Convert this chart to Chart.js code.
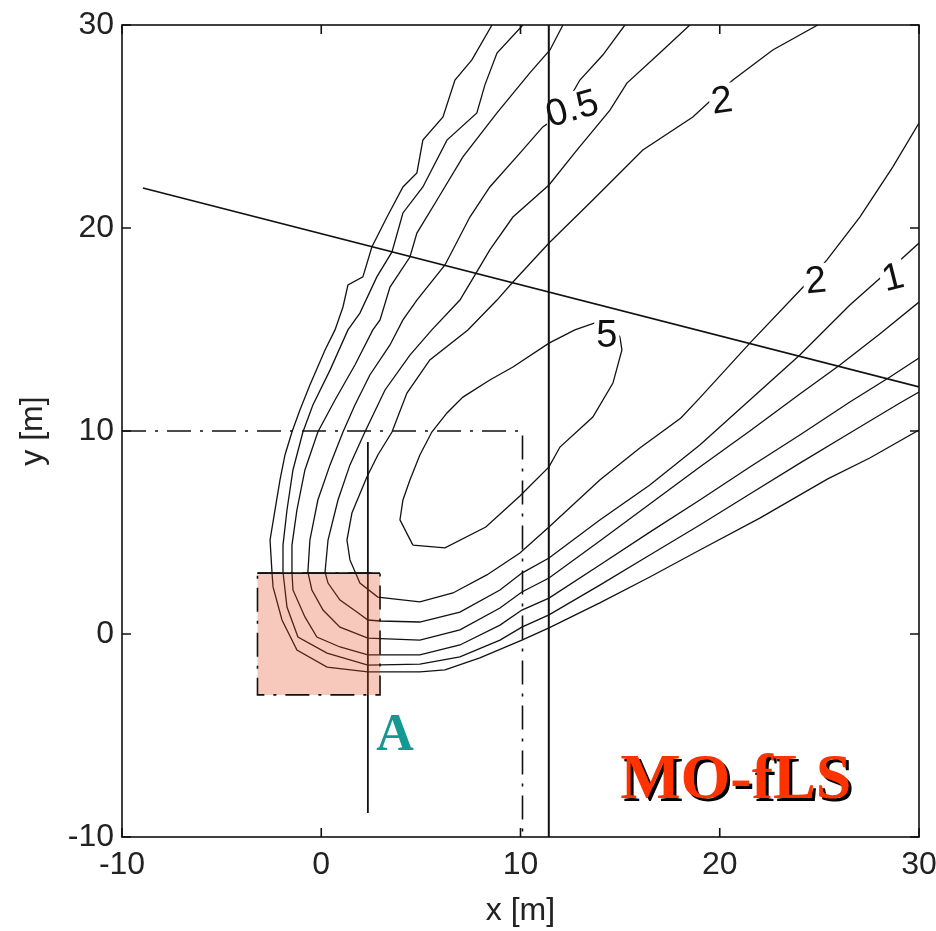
<!DOCTYPE html>
<html>
<head>
<meta charset="utf-8">
<title>MO-fLS footprint</title>
<script src="https://cdn.jsdelivr.net/npm/chart.js@4.4.1/dist/chart.umd.min.js"></script>
<style>
  html, body { margin: 0; padding: 0; background: #fff; }
  canvas { display: block; }
</style>
</head>
<body>
<canvas id="plot" width="936" height="931"></canvas>
<script>
// axis ticks (metres)
const xTicks = [-10, 0, 10, 20, 30];
const yTicks = [-10, 0, 10, 20, 30];

// contour lines, outermost first, [x, y] in metres
const contour1 = [
  [8.57, 30.0], [7.56, 28.28], [6.71, 27.29], [6.11, 25.47], [5.10, 24.33], [4.80, 22.71],
  [4.10, 22.02], [3.30, 20.54], [2.54, 19.06], [2.09, 17.59], [1.34, 17.19], [1.09, 16.11],
  [0.69, 14.98], [0.19, 13.99], [-0.57, 12.27], [-1.07, 11.03], [-1.47, 9.95], [-1.82, 8.82],
  [-2.07, 7.59], [-2.32, 6.11], [-2.57, 4.63], [-2.47, 3.00], [-2.42, 2.32], [-1.97, 0.69],
  [-1.22, -0.79], [0.29, -1.63], [2.34, -1.87], [4.95, -1.87], [6.21, -1.77], [7.96, -1.18],
  [10.07, -0.30], [11.43, 0.30], [13.98, 1.53], [16.49, 2.81], [19.00, 4.14], [22.01, 5.71],
  [25.42, 7.64], [27.53, 8.67], [30.00, 10.05]
];
const contour2 = [
  [10.12, 30.0], [8.82, 28.62], [8.21, 27.04], [7.81, 25.67], [6.31, 24.33], [5.10, 22.02],
  [4.10, 20.74], [3.55, 18.82], [2.79, 17.59], [1.94, 15.81], [1.34, 14.98], [0.44, 13.00],
  [-0.42, 11.28], [-0.92, 9.95], [-1.42, 8.08], [-1.72, 6.11], [-1.92, 4.38], [-1.92, 3.05],
  [-1.72, 1.33], [-1.17, -0.15], [0.29, -0.94], [2.34, -1.53], [4.95, -1.48], [6.96, -1.13],
  [8.97, -0.30], [10.07, 0.34], [11.43, 0.94], [13.98, 2.41], [16.49, 3.89], [19.00, 5.37],
  [21.51, 6.90], [24.02, 8.42], [26.53, 9.90], [29.04, 11.38], [30.00, 11.92]
];
const contour3 = [
  [12.13, 30.0], [11.48, 28.77], [10.47, 27.64], [8.82, 25.67], [7.11, 23.50], [5.81, 21.38],
  [4.80, 19.75], [4.45, 18.57], [3.45, 17.09], [2.95, 15.47], [2.59, 14.98], [1.69, 13.25],
  [0.69, 11.53], [-0.17, 9.95], [-0.82, 8.08], [-1.22, 6.11], [-1.47, 4.38], [-1.47, 3.05],
  [-1.42, 2.17], [-0.82, 0.84], [-0.22, -0.15], [0.94, -0.64], [2.34, -1.03], [4.95, -1.03],
  [6.96, -0.54], [8.97, 0.44], [10.07, 1.18], [11.43, 1.77], [13.98, 3.40], [16.49, 5.02],
  [19.00, 6.60], [21.51, 8.23], [24.02, 9.80], [26.53, 11.43], [28.54, 12.66], [30.00, 13.60]
];
const contour4 = [
  [15.24, 30.0], [14.13, 28.52], [12.98, 27.29], [11.98, 25.57], [11.12, 24.98], [9.97, 23.69],
  [8.46, 22.02], [7.46, 20.54], [6.21, 18.18], [4.80, 16.45], [4.10, 15.47], [3.45, 14.24],
  [2.44, 12.76], [1.69, 11.28], [1.09, 9.95], [0.44, 8.33], [-0.17, 6.60], [-0.57, 4.63],
  [-0.67, 3.05], [-0.47, 2.17], [0.09, 1.18], [0.94, 0.34], [2.34, -0.20], [4.95, -0.30],
  [6.96, 0.20], [8.97, 1.28], [10.07, 2.07], [11.43, 2.76], [13.98, 4.58], [16.49, 6.40],
  [19.00, 8.23], [21.51, 10.00], [24.02, 11.82], [26.03, 13.25], [28.03, 14.78], [30.00, 16.35]
];
const contour5 = [
  [18.50, 30.0], [16.99, 28.62], [15.34, 27.14], [14.49, 25.81], [12.83, 23.84], [11.43, 22.12],
  [9.62, 20.54], [8.46, 18.92], [7.71, 17.68], [6.96, 16.45], [5.55, 14.98], [4.45, 13.74],
  [3.20, 12.02], [2.19, 9.95], [1.44, 8.33], [0.84, 6.60], [0.34, 4.63], [0.19, 3.05],
  [0.34, 2.51], [0.94, 1.67], [1.79, 1.08], [2.34, 0.69], [2.95, 0.64], [4.95, 0.59],
  [6.96, 1.08], [8.97, 2.17], [10.07, 3.00], [11.43, 3.74], [13.98, 5.62], [16.49, 7.34],
  [19.00, 9.31], [21.51, 11.53], [24.02, 13.74], [26.53, 16.21], [28.68, 18.08], [30.00, 19.26]
];
const contour6 = [
  [24.92, 30.0], [22.66, 28.77], [20.66, 27.29], [18.65, 25.47], [16.14, 23.84], [13.63, 21.38],
  [11.43, 19.26], [9.62, 17.34], [8.82, 16.45], [7.36, 14.98], [5.45, 13.50], [4.30, 11.87],
  [3.55, 9.95], [2.84, 8.82], [2.29, 7.73], [1.54, 5.96], [1.29, 4.63], [1.44, 3.65],
  [1.94, 2.51], [2.84, 1.82], [4.95, 1.58], [6.61, 2.02], [8.31, 2.91], [9.97, 3.99],
  [11.43, 5.27], [13.98, 7.59], [15.99, 9.16], [18.05, 10.64], [19.00, 11.63], [21.51, 14.33],
  [24.52, 17.44], [25.37, 18.42], [27.03, 20.54], [28.68, 23.00], [30.00, 25.17]
];
// closed innermost contour
const contour7 = [
  [4.60, 4.38], [3.95, 5.62], [4.10, 6.60], [4.45, 7.59], [4.95, 8.82], [5.55, 9.95],
  [6.31, 10.89], [7.11, 11.67], [8.46, 12.51], [9.62, 13.15], [11.43, 14.33], [12.73, 14.98],
  [13.73, 15.32], [14.59, 15.17], [14.99, 14.63], [15.09, 13.99], [14.64, 12.36], [13.63, 10.69],
  [11.98, 9.21], [11.43, 8.23], [9.97, 6.80], [8.26, 5.27], [6.21, 4.24], [4.60, 4.38]
];

// contour labels
const labelText = ['0.5', '2', '2', '1', '5'];
const labelX = [12.58, 20.10, 24.81, 28.68, 14.33];
const labelY = [25.91, 26.31, 17.44, 17.59, 14.73];

// reference lines and areas
const slantLine = [[-8.95, 21.97], [30, 12.17]];
const mastLine = [[11.42, 30], [11.42, -10]];
const transectLine = [[2.34, 9.46], [2.34, -8.82]];
const domainEdge = [[-10, 10], [10.1, 10], [10.1, -10]];
const sourceArea = [[-3.2, 3], [2.95, 3], [2.95, -3], [-3.2, -3], [-3.2, 3]];
const sourceTop = [[-3.2, 3], [2.95, 3]];

// text tags placed in data space
const tagText = ['A', 'MO-fLS'];
const tagX = [3.70, 20.80];
const tagY = [-5.71, -8.08];

const toPts = arr => arr.map(([x, y]) => ({ x, y }));

function lineSet(arr, extra) {
  return Object.assign({
    data: toPts(arr),
    showLine: true,
    fill: false,
    tension: 0,
    pointRadius: 0,
    borderColor: '#111',
    borderWidth: 1.3
  }, extra);
}

const contours = [contour1, contour2, contour3, contour4, contour5, contour6, contour7];

const datasets = contours.map(c => lineSet(c, { order: 10 }));
datasets.push(lineSet(slantLine, { order: 5, borderWidth: 1.6 }));
datasets.push(lineSet(mastLine, { order: 5, borderWidth: 2 }));
datasets.push(lineSet(transectLine, { order: 5, borderWidth: 1.8 }));
datasets.push(lineSet(domainEdge, { order: 5, borderWidth: 1.6, borderDash: [24, 9, 3, 9] }));
datasets.push(lineSet(sourceArea, {
  order: 2, borderWidth: 0, borderColor: 'rgba(0,0,0,0)',
  fill: 'shape', backgroundColor: 'rgba(229,75,33,0.3)'
}));
datasets.push(lineSet(sourceArea, { order: 1, borderWidth: 1.6, borderDash: [24, 9, 3, 9] }));
datasets.push(lineSet(sourceTop, { order: 1, borderWidth: 1.8 }));

// contour labels sit on a white patch so the line looks broken, under the straight lines
const labelAngles = [-16, -8, -6, -14, 0];
const contourLabels = {
  id: 'contourLabels',
  afterDatasetDraw(chart, args) {
    if (args.index !== 0) return; // contour1 is the last contour drawn
    const { ctx, scales: { x, y } } = chart;
    ctx.save();
    ctx.font = '38px "Liberation Sans", Arial, sans-serif';
    ctx.textAlign = 'center';
    ctx.textBaseline = 'middle';
    labelText.forEach((t, i) => {
      const w = ctx.measureText(t).width;
      ctx.save();
      ctx.translate(x.getPixelForValue(labelX[i]), y.getPixelForValue(labelY[i]));
      ctx.rotate(labelAngles[i] * Math.PI / 180);
      ctx.fillStyle = '#fff';
      ctx.fillRect(-w / 2 - 2, -16, w + 4, 32);
      ctx.fillStyle = '#111';
      ctx.fillText(t, 0, 2);
      ctx.restore();
    });
    ctx.restore();
  }
};

// box around the plot with inward ticks on all four sides
const frame = {
  id: 'frame',
  afterDatasetsDraw(chart) {
    const { ctx, chartArea: a, scales: { x, y } } = chart;
    ctx.save();
    ctx.strokeStyle = '#111';
    ctx.lineWidth = 1.6;
    ctx.strokeRect(a.left, a.top, a.right - a.left, a.bottom - a.top);
    ctx.beginPath();
    xTicks.forEach(v => {
      const p = x.getPixelForValue(v);
      ctx.moveTo(p, a.bottom); ctx.lineTo(p, a.bottom - 9);
      ctx.moveTo(p, a.top); ctx.lineTo(p, a.top + 9);
    });
    yTicks.forEach(v => {
      const p = y.getPixelForValue(v);
      ctx.moveTo(a.left, p); ctx.lineTo(a.left + 9, p);
      ctx.moveTo(a.right, p); ctx.lineTo(a.right - 9, p);
    });
    ctx.stroke();
    ctx.restore();
  }
};

const tags = {
  id: 'tags',
  afterDraw(chart) {
    const { ctx, scales: { x, y } } = chart;
    ctx.save();
    ctx.textAlign = 'center';
    ctx.textBaseline = 'alphabetic';
    // "A"
    ctx.font = 'bold 52px "Liberation Serif", "Times New Roman", serif';
    ctx.fillStyle = '#129a92';
    ctx.fillText(tagText[0], x.getPixelForValue(tagX[0]), y.getPixelForValue(tagY[0]));
    // "MO-fLS" with a dark drop shadow
    const px = x.getPixelForValue(tagX[1]);
    const py = y.getPixelForValue(tagY[1]);
    ctx.font = 'bold 64px "Liberation Serif", "Times New Roman", serif';
    ctx.fillStyle = '#000';
    ctx.fillText(tagText[1], px + 3, py + 3);
    ctx.fillStyle = '#ff3300';
    ctx.fillText(tagText[1], px, py);
    ctx.restore();
  }
};

const tickFont = { family: '"Liberation Sans", Arial, sans-serif', size: 32 };

new Chart(document.getElementById('plot').getContext('2d'), {
  type: 'scatter',
  data: { datasets },
  options: {
    responsive: false,
    animation: false,
    devicePixelRatio: 1,
    layout: { padding: { top: 25, right: 17, left: 0, bottom: 0 } },
    plugins: { legend: { display: false }, tooltip: { enabled: false } },
    scales: {
      x: {
        type: 'linear', min: -10, max: 30,
        grid: { display: false, drawTicks: false },
        border: { display: false },
        ticks: { stepSize: 10, color: '#222', font: tickFont, padding: 9, maxRotation: 0, autoSkip: false },
        title: { display: true, text: 'x [m]', color: '#222', font: tickFont, padding: { top: 0, bottom: 1 } },
        afterFit: s => { s.height = 94; s.paddingLeft = 0; s.paddingRight = 0; }
      },
      y: {
        type: 'linear', min: -10, max: 30,
        grid: { display: false, drawTicks: false },
        border: { display: false },
        ticks: { stepSize: 10, color: '#222', font: tickFont, padding: 8, autoSkip: false },
        title: { display: true, text: 'y [m]', color: '#222', font: tickFont, padding: { top: 14, bottom: 0 } },
        afterFit: s => { s.width = 122; s.paddingTop = 0; s.paddingBottom = 0; }
      }
    }
  },
  plugins: [contourLabels, frame, tags]
});
</script>
</body>
</html>
